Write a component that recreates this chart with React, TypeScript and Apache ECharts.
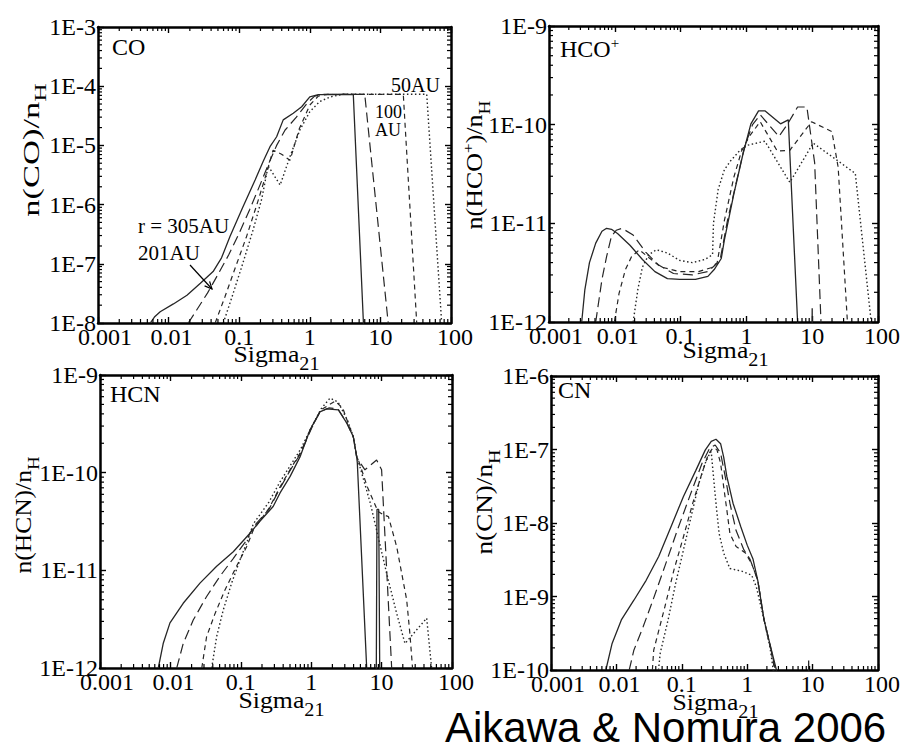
import React, { useEffect, useRef } from 'react';
import * as echarts from 'echarts';

// ---------------- data ----------------
const xTickLabels = ['0.001', '0.01', '0.1', '1', '10', '100'];
const coYTickLabels = ['1E-8', '1E-7', '1E-6', '1E-5', '1E-4', '1E-3'];
const hcoYTickLabels = ['1E-12', '1E-11', '1E-10', '1E-9'];
const hcnYTickLabels = ['1E-12', '1E-11', '1E-10', '1E-9'];
const cnYTickLabels = ['1E-10', '1E-9', '1E-8', '1E-7', '1E-6'];
const radii = ['305AU', '201AU', '100AU', '50AU'];

// CO
const coR305 = [[0.0055, 1e-8], [0.0063, 1.26e-8], [0.0076, 1.55e-8], [0.0117, 2.1e-8], [0.0182, 2.95e-8], [0.0282, 4.7e-8], [0.0427, 7.4e-8], [0.0562, 1.26e-7], [0.074, 2.9e-7], [0.112, 8.9e-7], [0.168, 2.6e-6], [0.219, 5.4e-6], [0.273, 9.5e-6], [0.339, 1.4e-5], [0.42, 2.7e-5], [0.583, 3.5e-5], [0.767, 4.5e-5], [1.0, 6.6e-5], [1.32, 7.2e-5], [4.13, 7.3e-5], [5.75, 1e-8], [6.5, 1e-9]];
const coR201 = [[0.019, 1e-8], [0.025, 1.66e-8], [0.0355, 3.2e-8], [0.05, 6.6e-8], [0.0708, 1.41e-7], [0.1, 3.3e-7], [0.141, 8.3e-7], [0.2, 2.24e-6], [0.263, 5.0e-6], [0.339, 1e-5], [0.447, 1.82e-5], [0.646, 3.0e-5], [0.91, 5.1e-5], [1.17, 6.8e-5], [1.6, 7.3e-5], [6.0, 7.3e-5], [12.9, 1e-8], [14, 1e-9]];
const coR100 = [[0.0457, 1e-8], [0.063, 2.8e-8], [0.089, 8.9e-8], [0.126, 2.8e-7], [0.178, 1e-6], [0.24, 3.2e-6], [0.302, 8.3e-6], [0.398, 7.1e-6], [0.525, 5.6e-6], [0.708, 1.9e-5], [1.0, 4.8e-5], [1.32, 6.8e-5], [1.78, 7.3e-5], [21.1, 7.3e-5], [32.7, 1e-8], [35, 1e-9]];
const coR50 = [[0.0596, 1e-8], [0.0794, 2.8e-8], [0.112, 1e-7], [0.158, 3.8e-7], [0.209, 1.26e-6], [0.257, 4.5e-6], [0.38, 2.14e-6], [0.525, 6.5e-6], [0.724, 1.82e-5], [1.0, 3.7e-5], [1.38, 5.5e-5], [1.95, 6.6e-5], [2.95, 7.3e-5], [45.3, 7.3e-5], [73.8, 1e-8], [80, 1e-9]];

// HCO+
const hcoR305 = [[0.00314, 1e-12], [0.0035, 2.1e-12], [0.00412, 4.0e-12], [0.00513, 6.3e-12], [0.00638, 8.3e-12], [0.0075, 8.9e-12], [0.0089, 8.7e-12], [0.011, 7.9e-12], [0.017, 6.0e-12], [0.0263, 4.3e-12], [0.0407, 3.24e-12], [0.063, 2.75e-12], [0.0977, 2.7e-12], [0.168, 2.7e-12], [0.26, 2.9e-12], [0.324, 3.4e-12], [0.415, 4.4e-12], [0.463, 6.8e-12], [0.646, 2.0e-11], [0.891, 5.1e-11], [1.17, 1.02e-10], [1.53, 1.38e-10], [1.91, 1.38e-10], [3.3, 1.02e-10], [4.33, 1.12e-10], [6.0, 1e-12], [6.2, 1e-13], [9.77, 1e-13], [10, 1.38e-12], [10.2, 1e-13]];
const hcoR201 = [[0.00513, 1e-12], [0.00638, 2.7e-12], [0.0075, 4.6e-12], [0.0089, 7.4e-12], [0.0105, 8.5e-12], [0.0129, 8.9e-12], [0.019, 7.6e-12], [0.0295, 5.1e-12], [0.0457, 3.8e-12], [0.078, 3.1e-12], [0.151, 3.0e-12], [0.26, 3.24e-12], [0.339, 3.8e-12], [0.394, 4.1e-12], [0.516, 1.07e-11], [0.716, 2.75e-11], [0.94, 6.0e-11], [1.24, 1.0e-10], [1.62, 1.26e-10], [2.13, 1.02e-10], [3.12, 7.6e-11], [4.17, 1.0e-10], [6.0, 1.51e-10], [8.3, 1.51e-10], [10.9, 4.1e-11], [13.6, 1e-12], [14, 1e-13]];
const hcoR100 = [[0.00986, 1e-12], [0.0116, 1.95e-12], [0.0145, 3.4e-12], [0.018, 4.6e-12], [0.0236, 5.4e-12], [0.0327, 4.5e-12], [0.0507, 3.6e-12], [0.0977, 3.24e-12], [0.187, 3.24e-12], [0.29, 3.55e-12], [0.36, 4.0e-12], [0.463, 1.07e-11], [0.646, 2.95e-11], [0.843, 5.4e-11], [1.107, 7.6e-11], [1.62, 1.07e-10], [2.95, 5.4e-11], [4.57, 5.5e-11], [9.77, 1.07e-10], [19.95, 8.5e-11], [24.8, 3.7e-11], [34.3, 1e-12], [36, 1e-13]];
const hcoR50 = [[0.019, 1e-12], [0.0224, 2.14e-12], [0.0263, 3.6e-12], [0.0327, 4.8e-12], [0.043, 5.4e-12], [0.063, 5.0e-12], [0.0977, 4.2e-12], [0.151, 4.0e-12], [0.233, 4.3e-12], [0.306, 4.8e-12], [0.316, 1e-11], [0.372, 2.2e-11], [0.463, 3.5e-11], [0.575, 4.3e-11], [0.798, 5.5e-11], [1.05, 6.2e-11], [1.91, 6.8e-11], [4.57, 2.6e-11], [10.35, 6.5e-11], [23.4, 4.4e-11], [45.2, 3.2e-11], [77.6, 1.1e-12], [80, 1e-13]];

// HCN
const hcnR305 = [[0.00673, 1e-12], [0.0079, 1.78e-12], [0.00986, 2.9e-12], [0.0152, 4.6e-12], [0.0263, 7.4e-12], [0.0454, 1.1e-11], [0.0782, 1.55e-11], [0.135, 2.4e-11], [0.188, 3.2e-11], [0.288, 4.5e-11], [0.361, 6.2e-11], [0.5, 9.1e-11], [0.693, 1.45e-10], [0.962, 2.75e-10], [1.33, 4.2e-10], [1.66, 4.5e-10], [2.43, 4.4e-10], [3.19, 3.24e-10], [3.96, 2.34e-10], [4.43, 1.45e-10], [4.52, 1.26e-10], [6.14, 1e-12], [6.5, 1e-13], [8.3, 1e-13], [8.6, 4.2e-11], [9.1, 4.2e-11], [9.4, 1e-12], [9.6, 1e-13]];
const hcnR201 = [[0.0123, 1e-12], [0.0152, 1.78e-12], [0.0211, 3.1e-12], [0.0327, 5.4e-12], [0.0506, 8.7e-12], [0.078, 1.32e-11], [0.121, 2.04e-11], [0.151, 2.8e-11], [0.251, 4.2e-11], [0.355, 6.8e-11], [0.5, 1.05e-10], [0.708, 1.58e-10], [1.0, 2.8e-10], [1.33, 4.2e-10], [1.78, 4.6e-10], [2.4, 4.5e-10], [3.19, 3.24e-10], [3.96, 2.34e-10], [4.43, 1.45e-10], [4.67, 1.35e-10], [5.8, 1.07e-10], [8.5, 1.35e-10], [10, 1.07e-10], [13.9, 1e-12], [14.5, 1e-13]];
const hcnR100 = [[0.0279, 1e-12], [0.0327, 2.1e-12], [0.043, 3.6e-12], [0.0596, 6.3e-12], [0.087, 1.1e-11], [0.121, 1.74e-11], [0.151, 2.6e-11], [0.251, 4.3e-11], [0.355, 7.0e-11], [0.5, 1.07e-10], [0.708, 1.62e-10], [1.0, 2.85e-10], [1.38, 4.4e-10], [2.18, 5.4e-10], [2.8, 4.6e-10], [3.3, 3.3e-10], [3.96, 2.34e-10], [4.43, 1.45e-10], [4.67, 1.35e-10], [6.3, 7.1e-11], [8.9, 4.0e-11], [10.6, 3.7e-11], [12.5, 3.55e-11], [16.4, 1.74e-11], [22.7, 5.0e-12], [25.3, 2.2e-12], [27.5, 1e-12], [28, 1e-13]];
const hcnR50 = [[0.0386, 1e-12], [0.0454, 2.1e-12], [0.0562, 3.9e-12], [0.0741, 7.4e-12], [0.0977, 1.29e-11], [0.121, 1.9e-11], [0.151, 3.0e-11], [0.251, 5.0e-11], [0.355, 7.9e-11], [0.5, 1.17e-10], [0.708, 1.74e-10], [1.0, 2.88e-10], [1.38, 4.5e-10], [1.85, 5.8e-10], [2.4, 5.3e-10], [3.3, 3.4e-10], [3.96, 2.34e-10], [4.43, 1.45e-10], [4.92, 1.15e-10], [6.9, 4.9e-11], [11.8, 9.3e-12], [16.4, 3.6e-12], [21.5, 1.78e-12], [43.7, 3.24e-12], [51.3, 1e-12], [55, 1e-13]];

// CN
const cnR305 = [[0.0069, 1e-10], [0.0086, 2.3e-10], [0.0119, 4.8e-10], [0.0185, 8.9e-10], [0.0285, 1.66e-9], [0.0443, 3.5e-9], [0.0684, 8.9e-9], [0.106, 2.3e-8], [0.164, 5.2e-8], [0.228, 9.8e-8], [0.282, 1.29e-7], [0.333, 1.38e-7], [0.392, 1.2e-7], [0.437, 7.9e-8], [0.488, 4.3e-8], [0.607, 1.86e-8], [0.798, 8.9e-9], [1.0, 5.0e-9], [1.23, 3.2e-9], [1.45, 1.66e-9], [1.81, 4.8e-10], [2.24, 2.2e-10], [2.8, 1e-10], [3.0, 1e-11], [8.5, 1e-11], [8.7, 1.35e-10], [8.9, 1e-11]];
const cnR201 = [[0.0157, 1e-10], [0.0185, 1.86e-10], [0.0257, 3.9e-10], [0.0355, 8.5e-10], [0.055, 2.57e-9], [0.0851, 7.9e-9], [0.132, 2.3e-8], [0.204, 6.5e-8], [0.268, 1.05e-7], [0.324, 1.15e-7], [0.392, 8.9e-8], [0.461, 4.3e-8], [0.544, 1.86e-8], [0.676, 7.9e-9], [0.891, 4.3e-9], [1.107, 3.2e-9], [1.45, 1.66e-9], [1.81, 4.8e-10], [2.24, 2.2e-10], [2.7, 1e-10], [2.9, 1e-11]];
const cnR100 = [[0.0355, 1e-10], [0.0372, 1.86e-10], [0.055, 7.2e-10], [0.0759, 2.3e-9], [0.106, 6.5e-9], [0.147, 1.86e-8], [0.204, 4.8e-8], [0.253, 8.5e-8], [0.298, 1.05e-7], [0.344, 1.0e-7], [0.392, 6.5e-8], [0.437, 3.1e-8], [0.488, 1.51e-8], [0.544, 7.2e-9], [0.676, 4.8e-9], [0.94, 3.9e-9], [1.17, 2.8e-9], [1.45, 1.66e-9], [1.81, 4.8e-10], [2.24, 2.1e-10], [2.63, 1e-10], [2.8, 1e-11]];
const cnR50 = [[0.044, 1e-10], [0.0468, 1.7e-10], [0.0617, 4.8e-10], [0.0805, 1.51e-9], [0.106, 4.3e-9], [0.139, 1.23e-8], [0.183, 3.5e-8], [0.228, 6.5e-8], [0.268, 8.9e-8], [0.282, 9.3e-8], [0.299, 5.2e-8], [0.333, 1.86e-8], [0.372, 7.2e-9], [0.437, 3.9e-9], [0.543, 2.4e-9], [0.843, 2.2e-9], [1.17, 1.95e-9], [1.38, 1.35e-9], [1.81, 4.8e-10], [2.24, 2.0e-10], [2.5, 1e-10], [2.7, 1e-11]];

// ---------------- styles / layout ----------------
const serif = 'Liberation Serif';
const sans = 'Liberation Sans';
const ink = '#000';
const lineColor = '#262626';
const tickFont = 24;
const lineStyles: any[] = [
  { type: 'solid', width: 1.3 },
  { type: [10, 5], width: 1.2 },
  { type: [5, 4], width: 1.2 },
  { type: [1.5, 2.5], width: 1.4 },
];
const xLabelShift = [7, 3, 0, 0, 0, 4];

const panels = [
  { box: { left: 98, top: 27, width: 353, height: 296 }, yLabels: coYTickLabels, lines: [coR305, coR201, coR100, coR50] },
  { box: { left: 549, top: 26, width: 352, height: 296 }, yLabels: hcoYTickLabels, lines: [hcoR305, hcoR201, hcoR100, hcoR50] },
  { box: { left: 100, top: 375, width: 352, height: 293 }, yLabels: hcnYTickLabels, lines: [hcnR305, hcnR201, hcnR100, hcnR50] },
  { box: { left: 551, top: 376, width: 351, height: 294 }, yLabels: cnYTickLabels, lines: [cnR305, cnR201, cnR100, cnR50] },
];

const lg = (v: number) => Math.round(Math.log10(v));

function yFormatter(labels: string[]) {
  return (v: number) => labels.find((s) => lg(parseFloat(s)) === lg(v)) ?? '';
}
function xFormatter(v: number) {
  const i = xTickLabels.findIndex((s) => lg(parseFloat(s)) === lg(v));
  return i < 0 ? '' : `{s${i}|${xTickLabels[i]}}`;
}
const xRich: any = {};
xTickLabels.forEach((_, i) => {
  xRich['s' + i] = { fontFamily: serif, fontSize: tickFont, color: ink, padding: [0, 0, 0, 2 * xLabelShift[i]] };
});

function minorTickData(xMin: number, xMax: number, yMin: number, yMax: number) {
  const out: number[][] = [];
  for (let e = lg(xMin); e < lg(xMax); e++) for (let m = 2; m <= 9; m++) out.push([m * Math.pow(10, e), yMin, 0]);
  for (let e = lg(yMin); e < lg(yMax); e++) for (let m = 2; m <= 9; m++) out.push([xMin, m * Math.pow(10, e), 1]);
  return out;
}

const renderMinor = (params: any, api: any) => {
  const cs = params.coordSys;
  const kind = api.value(2);
  const p = api.coord([api.value(0), api.value(1)]);
  const st = { stroke: ink, lineWidth: 1.2 };
  const L = 4;
  if (kind === 0) {
    return {
      type: 'group',
      children: [
        { type: 'line', shape: { x1: p[0], y1: cs.y + cs.height, x2: p[0], y2: cs.y + cs.height - L }, style: st },
        { type: 'line', shape: { x1: p[0], y1: cs.y, x2: p[0], y2: cs.y + L }, style: st },
      ],
    };
  }
  return {
    type: 'group',
    children: [
      { type: 'line', shape: { x1: cs.x, y1: p[1], x2: cs.x + L, y2: p[1] }, style: st },
      { type: 'line', shape: { x1: cs.x + cs.width, y1: p[1], x2: cs.x + cs.width - L, y2: p[1] }, style: st },
    ],
  };
};

const tok = (size: number, padding: number[]) => ({
  font: `${size}px ${serif}`,
  fontFamily: serif,
  fontSize: size,
  fill: ink,
  color: ink,
  padding,
});

function T(text: string, x: number, y: number, size: number, align = 'left', extra: any = {}, family = serif, lineHeight?: number) {
  const rich: any = {
    m: tok(size, [0, 0, 0, 0]),
    sub: tok(17, [20, 0, 0, 0]),
    sub2: tok(18, [20, 0, 0, 0]),
    sup: tok(15, [0, 0, 12, 0]),
  };
  return {
    type: 'text',
    x,
    y,
    silent: true,
    z: 10,
    ...extra,
    style: {
      text,
      font: `${size}px ${family}`,
      fontFamily: family,
      fontSize: size,
      fill: ink,
      align,
      textAlign: align,
      verticalAlign: 'middle',
      textVerticalAlign: 'middle',
      lineHeight,
      rich,
    },
  };
}

function buildOption() {
  const grid: any[] = [];
  const xAxis: any[] = [];
  const yAxis: any[] = [];
  const series: any[] = [];

  panels.forEach((p, i) => {
    grid.push({ ...p.box });
    const yMin = parseFloat(p.yLabels[0]);
    const yMax = parseFloat(p.yLabels[p.yLabels.length - 1]);
    const xMin = parseFloat(xTickLabels[0]);
    const xMax = parseFloat(xTickLabels[xTickLabels.length - 1]);
    const common = {
      type: 'log',
      logBase: 10,
      gridIndex: i,
      splitLine: { show: false },
      minorTick: { show: false },
      minorSplitLine: { show: false },
      axisLine: { show: true, onZero: false, lineStyle: { color: ink, width: 2.5 } },
      axisTick: { show: true, inside: true, length: 6, lineStyle: { color: ink, width: 1.4 } },
    };
    xAxis.push({
      ...common,
      position: 'bottom',
      min: xMin,
      max: xMax,
      axisLabel: { show: true, formatter: xFormatter, rich: xRich, fontFamily: serif, fontSize: tickFont, color: ink, margin: 2, showMinLabel: true, showMaxLabel: true },
    });
    xAxis.push({ ...common, position: 'top', min: xMin, max: xMax, axisLabel: { show: false } });
    yAxis.push({
      ...common,
      position: 'left',
      min: yMin,
      max: yMax,
      axisLabel: { show: true, formatter: yFormatter(p.yLabels), fontFamily: serif, fontSize: tickFont, color: ink, margin: 2, showMinLabel: true, showMaxLabel: true },
    });
    yAxis.push({ ...common, position: 'right', min: yMin, max: yMax, axisLabel: { show: false } });

    p.lines.forEach((d, k) => {
      series.push({
        type: 'line',
        name: radii[k],
        xAxisIndex: 2 * i,
        yAxisIndex: 2 * i,
        data: d,
        symbol: 'none',
        showSymbol: false,
        clip: true,
        silent: true,
        lineStyle: { ...lineStyles[k], color: lineColor },
        z: 3,
      });
    });
    series.push({
      type: 'custom',
      xAxisIndex: 2 * i,
      yAxisIndex: 2 * i,
      data: minorTickData(xMin, xMax, yMin, yMax),
      encode: { x: 0, y: 1 },
      renderItem: renderMinor,
      silent: true,
      z: 4,
    });
  });

  const sigma = { scaleX: 1.12 };
  const graphic: any[] = [
    // panel titles
    T('CO', 112, 47, 24),
    T('{m|HCO}{sup|+}', 560, 49, 24),
    T('HCN', 110, 394, 24),
    T('CN', 558, 390, 24),
    // CO annotations
    T(radii[3], 391, 85, 20),
    T(`${radii[2].replace('AU', '')}\nAU`, 375, 121, 18, 'left', {}, serif, 18),
    T(`r = ${radii[0]}`, 138, 226, 21),
    T(radii[1], 138, 253, 21),
    { type: 'line', silent: true, z: 10, shape: { x1: 190, y1: 265, x2: 212, y2: 289 }, style: { stroke: ink, lineWidth: 1.2 } },
    { type: 'polyline', silent: true, z: 10, shape: { points: [[209.6, 281.4], [212, 289], [204.6, 285.9]] }, style: { stroke: ink, lineWidth: 1.2, fill: null } },
    // x axis names
    T('{m|Sigma}{sub2|21}', 276.5, 354, 23, 'center', sigma),
    T('{m|Sigma}{sub2|21}', 725.5, 350, 23, 'center', sigma),
    T('{m|Sigma}{sub2|21}', 281.5, 700, 23, 'center', sigma),
    T('{m|Sigma}{sub2|21}', 715.5, 702, 23, 'center', sigma),
    // y axis names
    T('{m|n(CO)/n}{sub|H}', 31, 150, 23, 'center', { rotation: Math.PI / 2, scaleX: 1.5 }),
    T('{m|n(HCO}{sup|+}{m|)/n}{sub|H}', 474, 165, 23, 'center', { rotation: Math.PI / 2, scaleX: 1.13 }),
    T('{m|n(HCN)/n}{sub|H}', 23, 515, 23, 'center', { rotation: Math.PI / 2, scaleX: 1.11 }),
    T('{m|n(CN)/n}{sub|H}', 484, 502, 23, 'center', { rotation: Math.PI / 2, scaleX: 1.18 }),
    // citation
    T('Aikawa & Nomura 2006', 445, 727, 42, 'left', {}, sans),
  ];

  return {
    animation: false,
    backgroundColor: '#fff',
    grid,
    xAxis,
    yAxis,
    series,
    graphic,
  };
}

export default function App() {
  const ref = useRef<HTMLDivElement>(null);
  useEffect(() => {
    if (!ref.current) return;
    const chart = echarts.init(ref.current, null, { renderer: 'svg' });
    chart.setOption(buildOption() as any);
    return () => chart.dispose();
  }, []);
  return (
    <div
      ref={ref}
      style={{ position: 'absolute', left: 0, top: 0, width: 903, height: 749, background: '#fff' }}
    />
  );
}
